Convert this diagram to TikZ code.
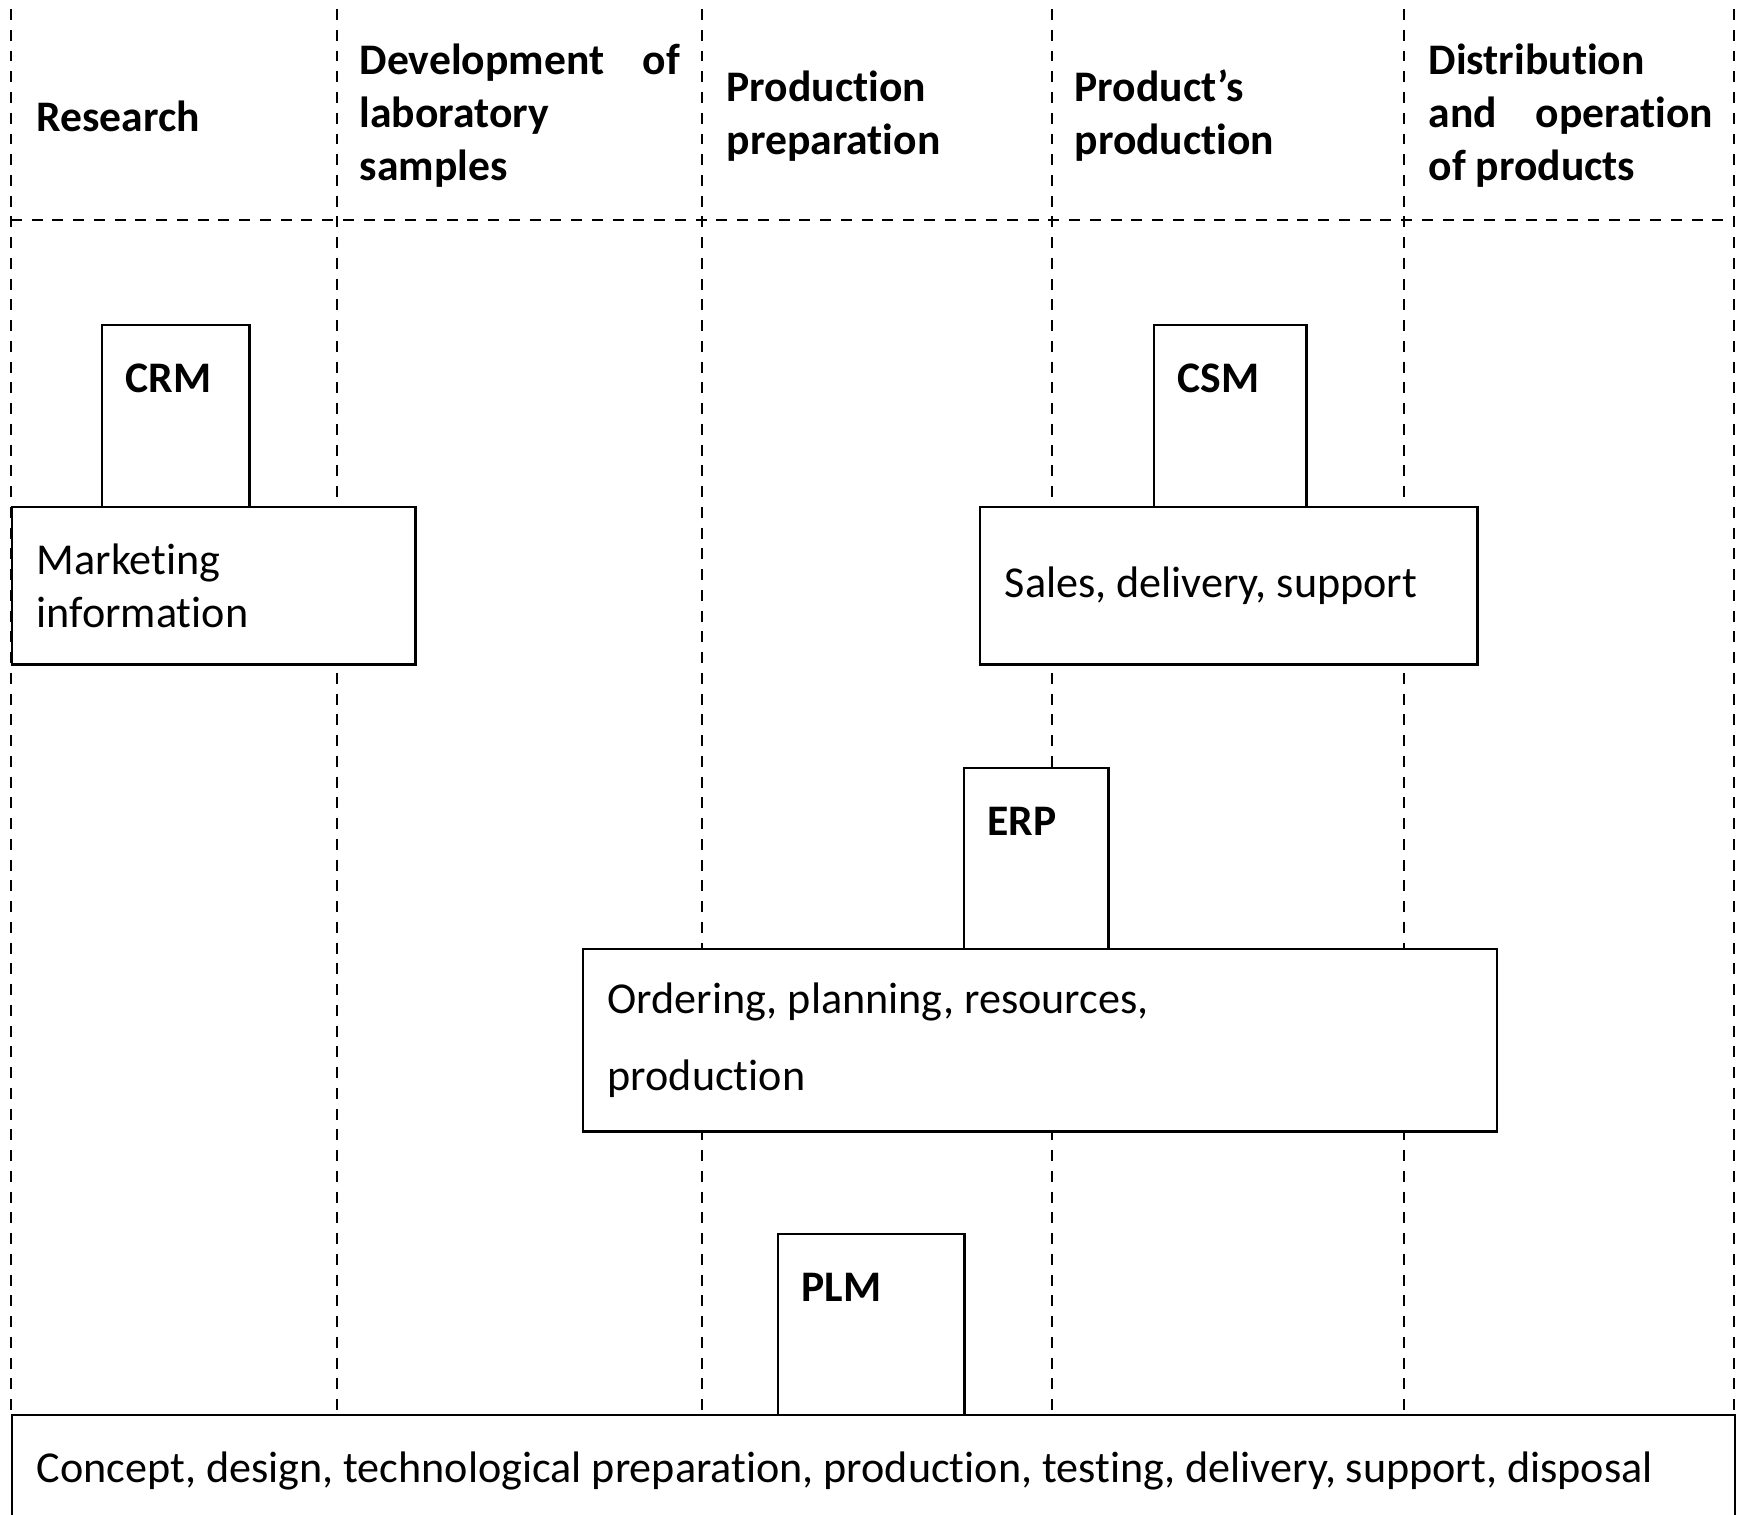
\documentclass[tikz,border=0pt]{standalone}
\usepackage{fontspec}
\setmainfont{Carlito}[Ligatures=NoCommon]
\usetikzlibrary{positioning, calc}
\hyphenpenalty=10000
\exhyphenpenalty=10000

\begin{document}
\begin{tikzpicture}[x=0.01cm, y=-0.01cm,
    stagegrid/.style={dash pattern=on 3.1pt off 2.8pt, line width=0.55pt},
    stagehead/.style={inner sep=0pt, anchor=west, align=justify, font=\fontsize{12.4pt}{15.1pt}\selectfont\bfseries},
    sysbox/.style={draw, fill=white, line width=0.7pt, anchor=north west, inner sep=0pt},
    systag/.style={inner sep=0pt, anchor=west, font=\fontsize{12.4pt}{15.1pt}\selectfont\bfseries},
    infobox/.style={draw, fill=white, line width=0.7pt, anchor=north west, inner xsep=0.245cm, inner ysep=0pt, align=justify, font=\fontsize{12.55pt}{15.1pt}\selectfont}]
  \useasboundingbox (0,0) rectangle (1742,1514);
  % Stage grid
  \foreach \x in {11,337,702,1052,1404,1734}
    \draw[stagegrid] (\x,9) -- (\x,1414);
  \draw[stagegrid] (11,220) -- (1734,220);
  % Stage headings
  \node[stagehead, text width=1.5cm] (research) at (36,116) {Research};
  \node[stagehead, text width=3.2cm] (labsamples) at (359,116) {Development\hfill of\\laboratory\\samples};
  \node[stagehead, text width=2.5cm] (prodprep) at (726,116) {Production\\preparation};
  \node[stagehead, text width=2.5cm] (prodrun) at (1074,116) {Product's\\production};
  \node[stagehead, text width=2.84cm] (distrib) at (1428,116) {Distribution\\and\hfill operation\\of products};
  % CRM
  \node[sysbox, minimum width=1.47cm, minimum height=1.82cm] (crmbox) at (101,324) {};
  \node[systag] (crm) at ([shift={(24,54)}]crmbox.north west) {CRM};
  \node[infobox, text width=3.54cm, minimum height=1.57cm] (marketing) at (11,506) {Marketing\\information};
  % CSM
  \node[sysbox, minimum width=1.52cm, minimum height=1.82cm] (csmbox) at (1153,324) {};
  \node[systag] (csm) at ([shift={(24,54)}]csmbox.north west) {CSM};
  \node[infobox, text width=4.48cm, minimum height=1.57cm] (sales) at (979,506) {Sales, delivery, support};
  % ERP
  \node[sysbox, minimum width=1.44cm, minimum height=1.81cm] (erpbox) at (963,767) {};
  \node[systag] (erp) at ([shift={(24,54)}]erpbox.north west) {ERP};
  \node[infobox, text width=8.64cm, minimum height=1.82cm, font=\fontsize{12.55pt}{22pt}\selectfont] (ordering) at (582,948) {Ordering, planning, resources,\\production};
  % PLM
  \node[sysbox, minimum width=1.86cm, minimum height=1.81cm] (plmbox) at (777,1233) {};
  \node[systag] (plm) at ([shift={(24,54)}]plmbox.north west) {PLM};
  \node[infobox, text width=16.73cm, minimum height=1.12cm] (lifecycle) at (11,1414) {Concept, design, technological preparation, production, testing, delivery, support, disposal};
\end{tikzpicture}
\end{document}
